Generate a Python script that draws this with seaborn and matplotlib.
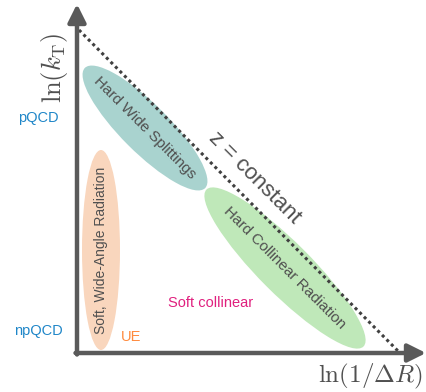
"""Lund-plane style sketch of kT vs 1/dR regions."""

import matplotlib

matplotlib.use("Agg")
import matplotlib.pyplot as plt
import pandas as pd
import seaborn as sns
from matplotlib.patches import Ellipse

# regions of the plane (pixel-like coordinates, y grows downwards)
region_labels = ["Hard Wide Splittings", "Hard Collinear Radiation", "Soft, Wide-Angle Radiation"]
region_x = [145, 285, 101]
region_y = [128, 268, 250]
region_length = [170, 222, 200]
region_width = [48, 52, 38]
region_angle = [45, 45, 90]
region_text_rotation = [-45, -45, 90]
region_text_size = [11, 11, 10]
region_colors = ["#a9d3cf", "#bfe8b9", "#f9d6bd"]

# z = constant line
z_line_x = [79, 398]
z_line_y = [30, 351]

# side / inner labels
side_labels = ["pQCD", "npQCD"]
side_y = [118, 331]
inner_labels = ["UE", "Soft collinear"]
inner_x = [121, 168]
inner_y = [337, 303]
inner_colors = ["#ff8a3d", "#e0207e"]

AXIS_COLOR = "#5a5a5a"
TEXT_COLOR = "#505050"

sns.set_theme(style="white")
plt.rcParams["mathtext.fontset"] = "cm"
plt.rcParams["font.family"] = ["Liberation Sans", "DejaVu Sans"]

fig = plt.figure(figsize=(4.26, 3.92), dpi=100)
ax = fig.add_axes([0, 0, 1, 1])
ax.set_xlim(0, 426)
ax.set_ylim(392, 0)
ax.axis("off")

for label, cx, cy, length, width, angle, rot, size, color in zip(
    region_labels, region_x, region_y, region_length, region_width,
    region_angle, region_text_rotation, region_text_size, region_colors
):
    ax.add_patch(Ellipse((cx, cy), length, width, angle=angle, facecolor=color, edgecolor="none", zorder=1))
    ax.text(cx, cy, label, rotation=rot, ha="center", va="center",
            fontsize=size, color=TEXT_COLOR, rotation_mode="anchor", zorder=3)

line_df = pd.DataFrame({"x": z_line_x, "y": z_line_y})
sns.lineplot(data=line_df, x="x", y="y", ax=ax, color="#404040", linestyle=(0, (1, 1.1)),
             linewidth=2.2, zorder=2)
ax.text(255, 178, "z = constant", rotation=-45, ha="center", va="center",
        fontsize=16, color=TEXT_COLOR, rotation_mode="anchor", zorder=3)

# axes arrows
arrow = dict(arrowstyle="-|>,head_length=0.9,head_width=0.45", color=AXIS_COLOR, lw=3.2,
             shrinkA=0, shrinkB=0)
ax.annotate("", xy=(77, 4), xytext=(77, 354.5), arrowprops=arrow, zorder=4)
ax.annotate("", xy=(426, 353), xytext=(75.5, 353), arrowprops=arrow, zorder=4)

ax.text(55, 68, r"$\ln(k_{\mathrm{T}})$", rotation=90, ha="center", va="center",
        fontsize=19, color=TEXT_COLOR)
ax.text(370, 376, r"$\ln(1/\Delta R)$", ha="center", va="center", fontsize=18, color=TEXT_COLOR)

for label, y in zip(side_labels, side_y):
    ax.text(38, y, label, ha="center", va="center", fontsize=10.5, color="#1f86c8")
for label, x, y, color in zip(inner_labels, inner_x, inner_y, inner_colors):
    ax.text(x, y, label, ha="left", va="center", fontsize=10.5, color=color)

fig.savefig("out.png", dpi=100)
plt.close(fig)
